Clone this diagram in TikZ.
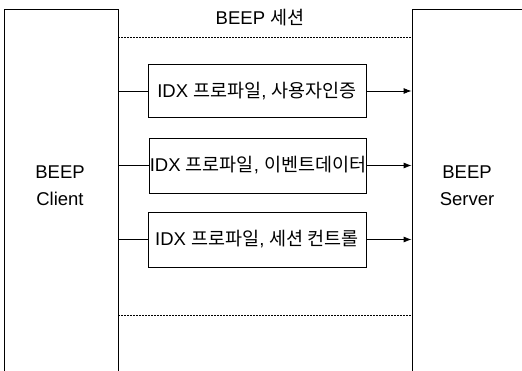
\documentclass[tikz,border=0pt]{standalone}
\usepackage{fontspec}
\setmainfont{Liberation Sans}
\newfontfamily\kr{Noto Sans CJK KR}
\usetikzlibrary{arrows.meta}
\tikzset{
  side/.style={draw, line width=0.8pt, inner sep=0pt},
  lbl/.style={align=center, inner sep=0pt, font=\fontsize{18.5}{27}\selectfont},
  prof/.style={draw, line width=0.8pt, inner sep=0pt, minimum height=53pt, font=\fontsize{18.5}{22}\selectfont},
  conn/.style={line width=0.8pt},
  arr/.style={line width=0.8pt, -{Latex[length=8pt,width=6pt]}},
  sess/.style={line width=0.7pt, dash pattern=on 2pt off 1pt},
}
\begin{document}
\begin{tikzpicture}[x=1pt,y=-1pt]
\useasboundingbox (0,0) rectangle (522,371);
\clip (0,0) rectangle (522,371);
\node[side, minimum width=114pt, minimum height=362pt] (client) at (61,190) {};
\node[lbl] (clientlbl) at (60,186) {BEEP\\Client};
\node[side, minimum width=118pt, minimum height=372pt] (server) at (471,195) {};
\node[lbl] (serverlbl) at (467,186) {BEEP\\Server};
\node[font=\fontsize{18.5}{22}\selectfont] (title) at (260,18) {BEEP {\kr 세션}};
\coordinate (st) at (0,37);
\coordinate (sb) at (0,315);
\node[prof, minimum width=218pt] (p1) at (257,91) {IDX {\kr 프로파일}, {\kr 사용자인증}};
\node[prof, minimum width=216pt, minimum height=55pt] (p2) at (258,165.5) {IDX {\kr 프로파일}, {\kr 이벤트데이터}};
\node[prof, minimum width=218pt, minimum height=55pt] (p3) at (257,239.5) {IDX {\kr 프로파일}, {\kr 세션 컨트롤}};
\draw[sess] (st -| client.east) -- (st -| server.west);
\draw[sess] (sb -| client.east) -- (sb -| server.west);
\foreach \p in {p1,p2,p3}{
  \draw[conn] (\p.west -| client.east) -- (\p.west);
  \draw[arr] (\p.east) -- (\p.east -| server.west);
}
\end{tikzpicture}
\end{document}
